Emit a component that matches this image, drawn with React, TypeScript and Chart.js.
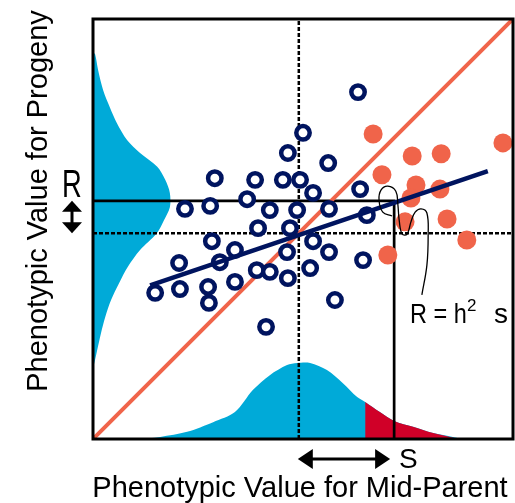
import React, { useEffect, useRef } from "react";
import { Chart, registerables } from "chart.js";

Chart.register(...registerables);

// ---- axis range (arbitrary phenotype units) ----
const axisMin = 0;
const axisMax = 100;

// ---- reference values ----
const populationMean = 49; // dashed lines
const selectedParentMean = 71.7; // mean of selected parents (solid vertical)
const progenyMean = 56.7; // mean of their progeny (solid horizontal)

// ---- unselected families (open navy circles) ----
const unselectedX = [63.1, 50.0, 46.4, 56.0, 29.0, 38.6, 45.2, 49.3, 52.4, 63.6, 36.7, 27.9, 21.9, 42.1, 48.6, 56.2, 65.2, 39.3, 46.9, 28.3, 33.8, 46.2, 52.4, 56.2, 64.3, 20.5, 30.2, 39.0, 42.1, 51.7, 46.4, 14.8, 20.7, 27.4, 33.8, 27.6, 57.6, 41.2];
const unselectedY = [82.6, 72.9, 68.1, 65.7, 62.1, 61.7, 61.7, 61.7, 58.6, 59.5, 57.1, 55.5, 54.8, 54.5, 54.5, 54.8, 53.3, 50.2, 50.2, 47.1, 45.0, 44.5, 47.1, 44.5, 42.6, 41.9, 42.1, 40.2, 39.8, 40.7, 38.3, 34.8, 35.7, 36.2, 37.4, 32.4, 33.1, 26.7];

// ---- selected families (filled orange circles) ----
const selectedX = [66.7, 97.6, 76.0, 82.9, 68.8, 76.9, 82.6, 75.7, 74.3, 84.3, 89.0, 70.2];
const selectedY = [72.6, 70.5, 67.4, 67.9, 62.9, 60.5, 59.5, 57.4, 51.7, 52.4, 47.4, 43.8];

// ---- regression of progeny on mid-parent ----
const regressionX = [13.6, 94.0];
const regressionY = [36.6, 63.8];

// ---- 1:1 line ----
const identityX = [0, 100];
const identityY = [0, 100];

// ---- mid-parent distribution (bottom) ----
const parentDensityX = [10.7, 16.0, 22.4, 28.6, 33.8, 38.1, 42.1, 46.2, 48.6, 51.7, 55.7, 59.5, 62.9, 64.8, 68.3, 71.7, 76.2, 81.0, 85.7, 87.9];
const parentDensityY = [0, 0.5, 1.7, 4.0, 6.4, 11.7, 15.2, 17.6, 18.1, 18.1, 16.4, 13.3, 10.0, 8.8, 6.4, 4.3, 2.9, 1.4, 0.5, 0];

// ---- selected tail of mid-parent distribution ----
const tailX = [64.8, 68.3, 71.7, 76.2, 81.0, 85.0, 87.0];
const tailY = [8.8, 6.4, 4.3, 2.9, 1.4, 0.5, 0];

// ---- progeny distribution (left, drawn sideways) ----
const progenyDensityY = [92.0, 91.6, 87.9, 83.1, 79.0, 75.2, 71.2, 68.1, 64.8, 61.7, 58.6, 55.2, 52.1, 49.0, 45.0, 41.0, 37.1, 33.1, 29.0, 25.2, 21.2, 17.6, 17.3];
const progenyDensityX = [0, 0.5, 1.2, 2.4, 4.0, 5.7, 8.1, 11.2, 15.3, 17.2, 18.3, 18.3, 16.9, 15.2, 11.2, 8.3, 6.2, 4.3, 2.9, 1.9, 1.0, 0.2, 0];

// ---- leader line to the "R = h² s" label ----
const leaderX = [71.2, 69.0, 68.1, 68.6, 70.2, 72.1, 72.6, 72.9, 73.6, 74.8, 75.7, 76.7, 78.1, 79.5, 79.8, 79.5, 78.3];
const leaderY = [53.1, 54.0, 56.9, 59.3, 60.2, 59.0, 55.7, 52.1, 48.8, 48.8, 51.7, 54.0, 54.8, 53.8, 48.6, 41.4, 34.3];

// ---- labels ----
const xTitle = "Phenotypic Value for Mid-Parent";
const yTitle = "Phenotypic Value for Progeny";
const responseLabel = "R";
const selectionLabel = "S";

const NAVY = "#00145f";
const ORANGE = "#f0644a";
const CYAN = "#00aad8";
const RED = "#d00028";
const FONT = '"Liberation Sans", Arial, Helvetica, sans-serif';

const pts = (xs: number[], ys: number[]) => xs.map((x, i) => ({ x, y: ys[i] }));

const decorPlugin = {
  id: "decor",
  afterDatasetsDraw(chart: any) {
    const { ctx, chartArea } = chart;
    ctx.save();
    ctx.strokeStyle = "#000";
    ctx.lineWidth = 3;
    ctx.strokeRect(chartArea.left, chartArea.top, chartArea.right - chartArea.left, chartArea.bottom - chartArea.top);
    ctx.restore();
  },
  afterDraw(chart: any) {
    const { ctx } = chart;
    const xs = chart.scales.x;
    const ys = chart.scales.y;
    ctx.save();
    ctx.fillStyle = "#000";
    ctx.strokeStyle = "#000";

    // x title
    ctx.font = `29px ${FONT}`;
    ctx.textAlign = "center";
    ctx.textBaseline = "alphabetic";
    ctx.fillText(xTitle, 300, 497);

    // y title (rotated)
    ctx.save();
    ctx.translate(47, 201);
    ctx.rotate(-Math.PI / 2);
    ctx.fillText(yTitle, 0, 0);
    ctx.restore();

    // R label
    ctx.save();
    ctx.font = `38px ${FONT}`;
    ctx.textAlign = "left";
    ctx.translate(62, 197);
    ctx.scale(0.72, 1);
    ctx.fillText(responseLabel, 0, 0);
    ctx.restore();

    // vertical double arrow (R)
    const ax = 72;
    const yTop = ys.getPixelForValue(progenyMean);
    const yBot = ys.getPixelForValue(populationMean);
    ctx.lineWidth = 3;
    ctx.beginPath();
    ctx.moveTo(ax, yTop + 8);
    ctx.lineTo(ax, yBot - 8);
    ctx.stroke();
    ctx.beginPath();
    ctx.moveTo(ax, yTop);
    ctx.lineTo(ax - 10, yTop + 11);
    ctx.lineTo(ax + 10, yTop + 11);
    ctx.closePath();
    ctx.fill();
    ctx.beginPath();
    ctx.moveTo(ax, yBot);
    ctx.lineTo(ax - 10, yBot - 11);
    ctx.lineTo(ax + 10, yBot - 11);
    ctx.closePath();
    ctx.fill();

    // horizontal double arrow (S)
    const ay = 459;
    const xL = xs.getPixelForValue(populationMean) - 1;
    const xR = xs.getPixelForValue(selectedParentMean) - 4;
    ctx.lineWidth = 3;
    ctx.beginPath();
    ctx.moveTo(xL + 10, ay);
    ctx.lineTo(xR - 10, ay);
    ctx.stroke();
    ctx.beginPath();
    ctx.moveTo(xL, ay);
    ctx.lineTo(xL + 15, ay - 10);
    ctx.lineTo(xL + 15, ay + 10);
    ctx.closePath();
    ctx.fill();
    ctx.beginPath();
    ctx.moveTo(xR, ay);
    ctx.lineTo(xR - 15, ay - 10);
    ctx.lineTo(xR - 15, ay + 10);
    ctx.closePath();
    ctx.fill();

    // S label
    ctx.font = `28px ${FONT}`;
    ctx.textAlign = "left";
    ctx.fillText(selectionLabel, 399, 468);

    // R = h² s
    ctx.save();
    ctx.translate(410, 323);
    ctx.scale(0.84, 1);
    ctx.font = `28px ${FONT}`;
    ctx.fillText("R = h", 0, 0);
    ctx.restore();
    ctx.font = `17px ${FONT}`;
    ctx.fillText("2", 467, 311);
    ctx.font = `28px ${FONT}`;
    ctx.fillText("s", 494, 323);

    ctx.restore();
  },
};

export default function App() {
  const ref = useRef<HTMLCanvasElement>(null);
  useEffect(() => {
    const canvas = ref.current;
    if (!canvas) return;
    const lineBase = { showLine: true, pointRadius: 0, pointHoverRadius: 0, fill: false };
    const chart = new Chart(canvas, {
      type: "scatter",
      data: {
        datasets: [
          { ...lineBase, label: "leader", data: pts(leaderX, leaderY), borderColor: "#000", borderWidth: 1.3, tension: 0.4 },
          { ...lineBase, label: "regression", data: pts(regressionX, regressionY), borderColor: NAVY, borderWidth: 4.5 },
          {
            label: "unselected",
            data: pts(unselectedX, unselectedY),
            pointRadius: 6.7,
            pointBorderWidth: 4.5,
            pointBorderColor: NAVY,
            pointBackgroundColor: "#fff",
            borderColor: NAVY,
            backgroundColor: "#fff",
          },
          {
            label: "selected",
            data: pts(selectedX, selectedY),
            pointRadius: 9.5,
            pointBorderWidth: 0,
            pointBorderColor: ORANGE,
            pointBackgroundColor: ORANGE,
            borderColor: ORANGE,
            backgroundColor: ORANGE,
          },
          { ...lineBase, label: "identity", data: pts(identityX, identityY), borderColor: ORANGE, borderWidth: 4 },
          {
            ...lineBase,
            label: "selection",
            data: [
              { x: axisMin, y: progenyMean },
              { x: selectedParentMean, y: progenyMean },
              { x: selectedParentMean, y: axisMin },
            ],
            borderColor: "#000",
            borderWidth: 2.7,
          },
          {
            ...lineBase,
            label: "meanX",
            data: [
              { x: populationMean, y: axisMin },
              { x: populationMean, y: axisMax },
            ],
            borderColor: "#000",
            borderWidth: 2.5,
            borderDash: [4, 2],
          },
          {
            ...lineBase,
            label: "meanY",
            data: [
              { x: axisMin, y: populationMean },
              { x: axisMax, y: populationMean },
            ],
            borderColor: "#000",
            borderWidth: 2.5,
            borderDash: [4, 2],
          },
          {
            ...lineBase,
            label: "tail",
            data: pts(tailX, tailY),
            fill: "origin",
            backgroundColor: RED,
            borderColor: "rgba(0,0,0,0)",
            borderWidth: 1,
            tension: 0.3,
          },
          {
            ...lineBase,
            label: "parentDensity",
            data: pts(parentDensityX, parentDensityY),
            fill: "origin",
            backgroundColor: CYAN,
            borderColor: "rgba(0,0,0,0)",
            borderWidth: 1,
            tension: 0.3,
          },
          {
            ...lineBase,
            label: "progenyDensity",
            data: pts(progenyDensityX, progenyDensityY),
            fill: "shape",
            backgroundColor: CYAN,
            borderColor: "rgba(0,0,0,0)",
            borderWidth: 1,
            tension: 0.3,
          },
        ] as any,
      },
      options: {
        animation: false,
        responsive: false,
        maintainAspectRatio: false,
        devicePixelRatio: 1,
        layout: { autoPadding: false, padding: { left: 93, right: 2, top: 19, bottom: 64 } },
        plugins: { legend: { display: false }, tooltip: { enabled: false } },
        events: [],
        scales: {
          x: { type: "linear", min: axisMin, max: axisMax, display: false },
          y: { type: "linear", min: axisMin, max: axisMax, display: false },
        },
      } as any,
      plugins: [decorPlugin],
    });
    return () => chart.destroy();
  }, []);
  return (
    <div style={{ position: "absolute", left: 0, top: 0, width: 515, height: 503, background: "#fff" }}>
      <canvas ref={ref} width={515} height={503} style={{ display: "block" }} />
    </div>
  );
}
